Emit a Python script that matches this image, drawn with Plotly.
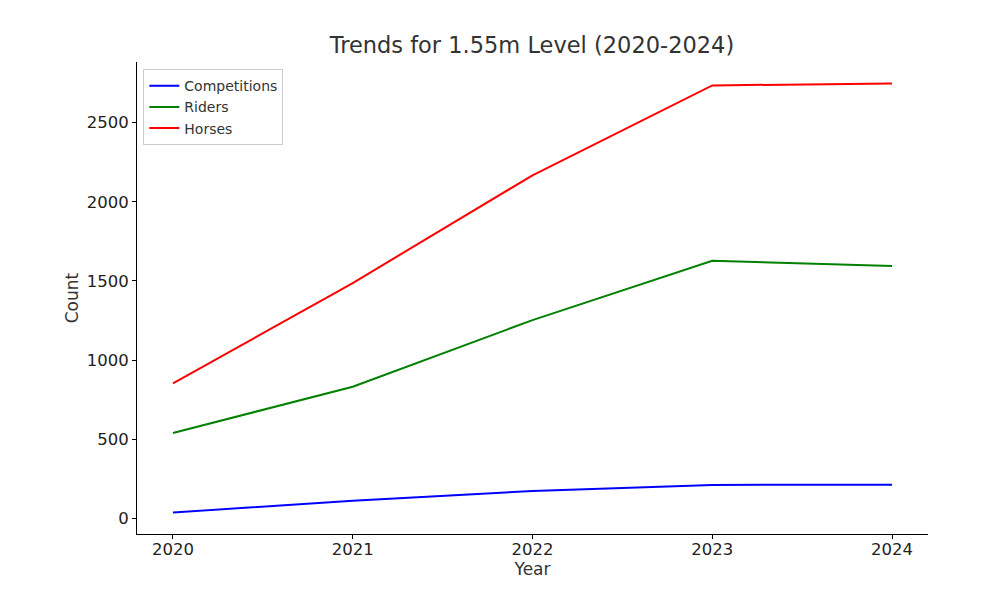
import plotly.graph_objects as go

years = [2020, 2021, 2022, 2023, 2024]
competitions = [38, 113, 175, 213, 214]
riders = [541, 832, 1253, 1627, 1594]
horses = [853, 1487, 2167, 2734, 2747]

font = "DejaVu Sans"
ink = "#333333"

fig = go.Figure()
fig.add_trace(go.Scatter(x=years, y=competitions, mode='lines', name='Competitions',
                         line=dict(color='blue', width=2)))
fig.add_trace(go.Scatter(x=years, y=riders, mode='lines', name='Riders',
                         line=dict(color='green', width=2)))
fig.add_trace(go.Scatter(x=years, y=horses, mode='lines', name='Horses',
                         line=dict(color='red', width=2)))

# page body adds an 8px offset, so the figure is sized to fit inside the window
fig.update_layout(
    width=986, height=579,
    margin=dict(l=129, r=66, t=54, b=53),
    plot_bgcolor='white', paper_bgcolor='white',
    font=dict(family=font, color=ink, size=14),
    title=dict(text="Trends for 1.55m Level (2020-2024)", x=0.5314, xanchor='center',
               y=0.936, yanchor='middle', font=dict(size=22.5, color=ink)),
    legend=dict(x=0.008, y=0.985, xanchor='left', yanchor='top',
                bordercolor='#cccccc', borderwidth=1, bgcolor='rgba(255,255,255,0.8)',
                font=dict(size=14, color=ink), tracegroupgap=0, itemwidth=30),
    showlegend=True,
)
fig.update_xaxes(range=[2019.8, 2024.2], tickvals=years, ticks='outside', ticklen=4,
                 tickcolor='black', showline=True, linecolor='black', linewidth=1,
                 showgrid=False, zeroline=False, title=dict(text='Year', standoff=2),
                 tickfont=dict(size=16.5, color='#222222'), ticklabelstandoff=-4,
                 automargin=False)
fig.update_yaxes(range=[-97, 2882], tickvals=[0, 500, 1000, 1500, 2000, 2500], ticks='outside',
                 ticklen=4, tickcolor='black', showline=True, linecolor='black', linewidth=1,
                 showgrid=False, zeroline=False, title=dict(text='Count', standoff=3),
                 tickfont=dict(size=16.5, color='#222222'), automargin=False)

fig.write_html("out.html")
